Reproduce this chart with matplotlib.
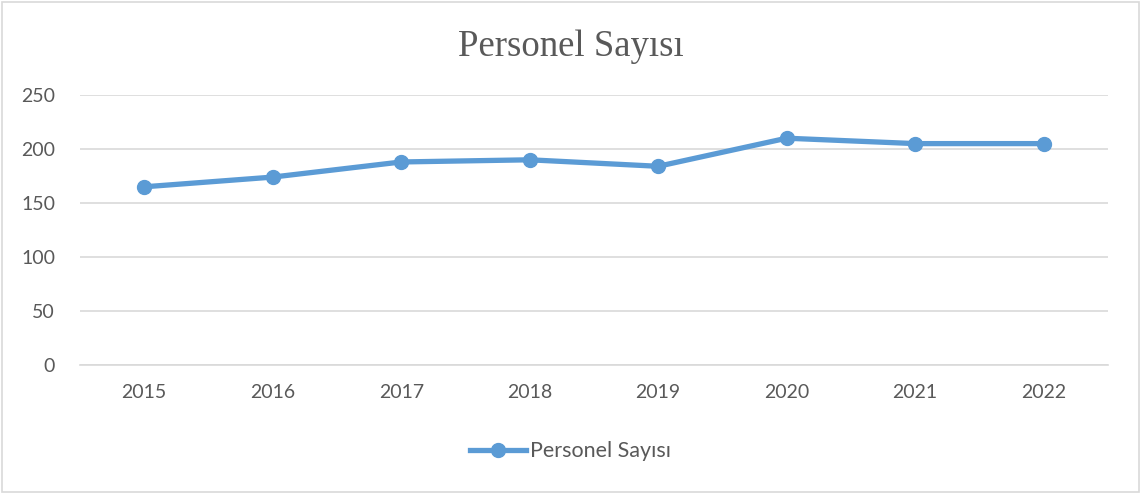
import matplotlib.pyplot as plt
from matplotlib.patches import Rectangle

years = ['2015', '2016', '2017', '2018', '2019', '2020', '2021', '2022']
personel = [165, 174, 188, 190, 184, 210, 205, 205]
y_ticks = [0, 50, 100, 150, 200, 250]

blue = '#5B9BD5'
grey_text = '#595959'
grid = '#D9D9D9'

fig = plt.figure(figsize=(11.41, 4.93), dpi=100)
ax = fig.add_axes([0.0701, 0.2596, 0.9009, 0.5477])

x = range(len(years))
ax.plot(x, personel, color=blue, linewidth=3.8, marker='o', markersize=10,
        label='Personel Sayısı', solid_joinstyle='round')

ax.set_xlim(-0.5, len(years) - 0.5)
ax.set_ylim(0, 250)
ax.set_yticks(y_ticks)
ax.set_xticks(list(x))
ax.set_xticklabels(years)
ax.yaxis.grid(True, color=grid, linewidth=1.2)
ax.set_axisbelow(True)
for s in ['top', 'right', 'left']:
    ax.spines[s].set_visible(False)
ax.spines['bottom'].set_color(grid)
ax.spines['bottom'].set_linewidth(1.2)
ax.tick_params(length=0, labelsize=14, labelcolor=grey_text, pad=14)
ax.tick_params(axis='y', pad=18)
for lab in ax.get_xticklabels() + ax.get_yticklabels():
    lab.set_family('Lato')

fig.text(0.5, 0.905, 'Personel Sayısı', ha='center', va='center',
         fontsize=26.5, color=grey_text, family='Liberation Serif')

leg = fig.legend(loc='center', bbox_to_anchor=(0.5, 0.085), frameon=False,
                 prop={'family': 'Lato', 'size': 15.5}, handlelength=2.6,
                 handletextpad=0.15)
for t in leg.get_texts():
    t.set_color(grey_text)

fig.patches.append(Rectangle((0.002, 0.003), 0.996, 0.993, transform=fig.transFigure,
                             fill=False, edgecolor='#D9D9D9', linewidth=1.2))

fig.savefig('out.png', dpi=100)
